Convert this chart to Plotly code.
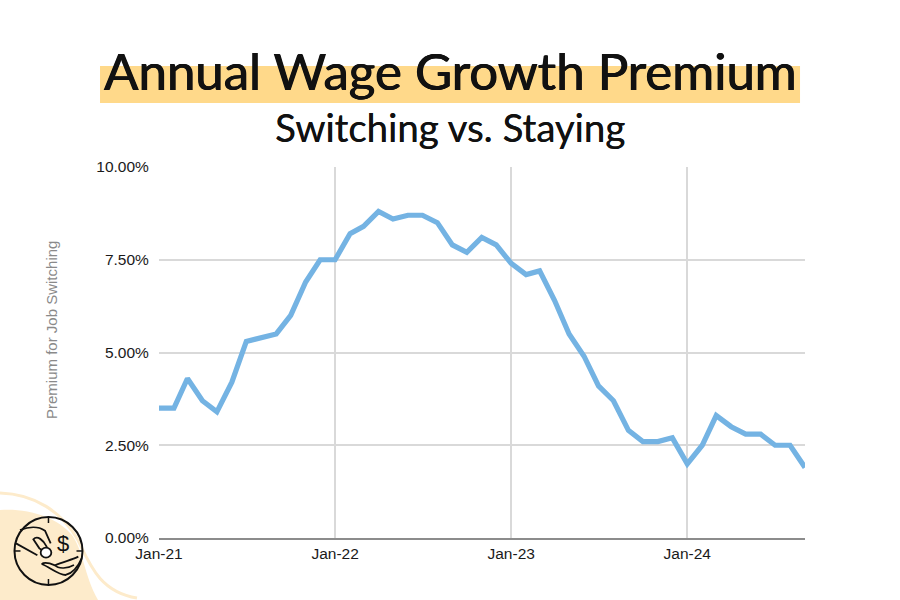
import plotly.graph_objects as go

months = ["2021-01","2021-02","2021-03","2021-04","2021-05","2021-06","2021-07","2021-08","2021-09","2021-10","2021-11","2021-12",
          "2022-01","2022-02","2022-03","2022-04","2022-05","2022-06","2022-07","2022-08","2022-09","2022-10","2022-11","2022-12",
          "2023-01","2023-02","2023-03","2023-04","2023-05","2023-06","2023-07","2023-08","2023-09","2023-10","2023-11","2023-12",
          "2024-01","2024-02","2024-03","2024-04","2024-05","2024-06","2024-07","2024-08","2024-09"]
premium = [3.5,3.5,4.3,3.7,3.4,4.2,5.3,5.4,5.5,6.0,6.9,7.5,
           7.5,8.2,8.4,8.8,8.6,8.7,8.7,8.5,7.9,7.7,8.1,7.9,
           7.4,7.1,7.2,6.4,5.5,4.9,4.1,3.7,2.9,2.6,2.6,2.7,
           2.0,2.5,3.3,3.0,2.8,2.8,2.5,2.5,1.9]
x_tick_vals = ["2021-01-01","2022-01-01","2023-01-01","2024-01-01"]
x_tick_text = ["Jan-21","Jan-22","Jan-23","Jan-24"]
y_tick_vals = [0,2.5,5,7.5,10]
y_tick_text = ["0.00%","2.50%","5.00%","7.50%","10.00%"]

W,H = 900,600
L,R,T,B = 159,805,167,538
PEACH="#FDEBCB"; INK="#111111"
px = lambda x:(x-L)/(R-L)
py = lambda y:(B-y)/(B-T)

def path(cmds):
    """Page-pixel path -> paper coordinates; tokens are cmd or (x,y)."""
    out=[]
    for c in cmds:
        if isinstance(c,str): out.append(c)
        else: out.append(f"{px(c[0]):.4f},{py(c[1]):.4f}")
    return " ".join(out)

def z(x,y):  # helper for the emblem sketch, measured at 3x
    return (x/3, 480+y/3)

shapes=[]
def add(d,color=INK,w=2,fill=None,layer="below"):
    s=dict(type="path",xref="paper",yref="paper",path=path(d),layer=layer,line=dict(color=color,width=w))
    if fill: s["fillcolor"]=fill
    shapes.append(s)

# highlight bar
add(["M",(100,66),"L",(800,66),"L",(800,103),"L",(100,103),"Z"],color="#FFD98A",w=0,fill="#FFD98A")
# corner blob and arc
add(["M",(0,600),"L",(0,510),"C",(30,508),(58,518),(72,535),"C",(84,552),(84,575),(98,600),"Z"],color=PEACH,w=0,fill=PEACH)
add(["M",(0,493),"C",(35,494),(62,512),(78,540),"C",(90,565),(100,592),(137,598)],color=PEACH,w=3)
# emblem circle
cx,cy,r=48.5,551,34
shapes.append(dict(type="circle",xref="paper",yref="paper",x0=px(cx-r),x1=px(cx+r),y0=py(cy+r),y1=py(cy-r),line=dict(color=INK,width=2),layer="below"))
for a,b in [((cx,cy-r),(cx,cy-r+6)),((cx,cy+r),(cx,cy+r-6)),((cx-r,cy),(cx-r+6,cy)),((cx+r,cy),(cx+r-6,cy))]:
    add(["M",a,"L",b],w=1.5)
# hands and coin
add(["M",z(60,150),"C",z(85,140),z(115,138),z(135,152),"L",z(152,190)],w=1.8)
add(["M",z(100,178),"C",z(112,165),z(130,180),z(140,200),"C",z(146,212),z(125,212),z(118,205),"Z"],w=1.8)
add(["M",z(48,190),"L",z(112,226)],w=1.8)
shapes.append(dict(type="circle",xref="paper",yref="paper",x0=px(122/3),x1=px(154/3),y0=py(480+233/3),y1=py(480+203/3),line=dict(color=INK,width=1.8),fillcolor="white",layer="below"))
add(["M",z(125,252),"C",z(150,262),z(175,285),z(197,285),"C",z(215,280),z(232,265),z(245,235)],w=1.8)
add(["M",z(125,252),"C",z(135,245),z(150,250),z(165,256),"C",z(190,245),z(215,240),z(235,230)],w=1.8)
add(["M",z(165,256),"C",z(175,268),z(205,265),z(222,255)],w=1.5)

fig=go.Figure(go.Scatter(x=months,y=premium,mode="lines",line=dict(color="#74B3E3",width=5.2),hoverinfo="skip"))

TXT=dict(xref="paper",yref="paper",showarrow=False)
THICK="0.5px 0 0 #111111, -0.5px 0 0 #111111"
THIN="0.3px 0 0 #111111"
annots=[
 dict(text="Annual Wage Growth Premium",x=px(450),y=py(71),font=dict(family="Lato",size=51,color=INK,shadow=THICK),xanchor="center",yanchor="middle",**TXT),
 dict(text="Switching vs. Staying",x=px(449.5),y=py(127),font=dict(family="Lato",size=38.4,color=INK,shadow=THIN),xanchor="center",yanchor="middle",**TXT),
 dict(text="Premium for Job Switching",x=px(51),y=py(330),textangle=-90,font=dict(family="Liberation Sans",size=15,color="#8a8a8a"),xanchor="center",yanchor="middle",**TXT),
 dict(text="$",x=px(63),y=py(543),font=dict(family="Liberation Sans",size=22,color=INK),xanchor="center",yanchor="middle",**TXT),
]

fig.update_layout(
    width=W,height=H,margin=dict(l=L,r=W-R,t=T,b=H-B),
    paper_bgcolor="white",plot_bgcolor="white",showlegend=False,
    shapes=shapes,annotations=annots,
    font=dict(family="Liberation Sans",size=15.5,color="#1a1a1a"),
    xaxis=dict(type="date",range=["2021-01-01","2024-09-01"],tickvals=x_tick_vals,ticktext=x_tick_text,
               showgrid=True,gridcolor="#d9d9d9",gridwidth=2,ticks="",tickangle=0,
               showline=True,linecolor="#8c8c8c",linewidth=2,zeroline=False),
    yaxis=dict(range=[0,10],tickvals=y_tick_vals,ticktext=y_tick_text,
               showgrid=True,gridcolor="#d9d9d9",gridwidth=2,ticks="outside",ticklen=6,tickcolor="rgba(0,0,0,0)",zeroline=False,showline=False),
)
fig.write_html("out.html",config=dict(displayModeBar=False),post_script="document.body.style.margin='0';")
